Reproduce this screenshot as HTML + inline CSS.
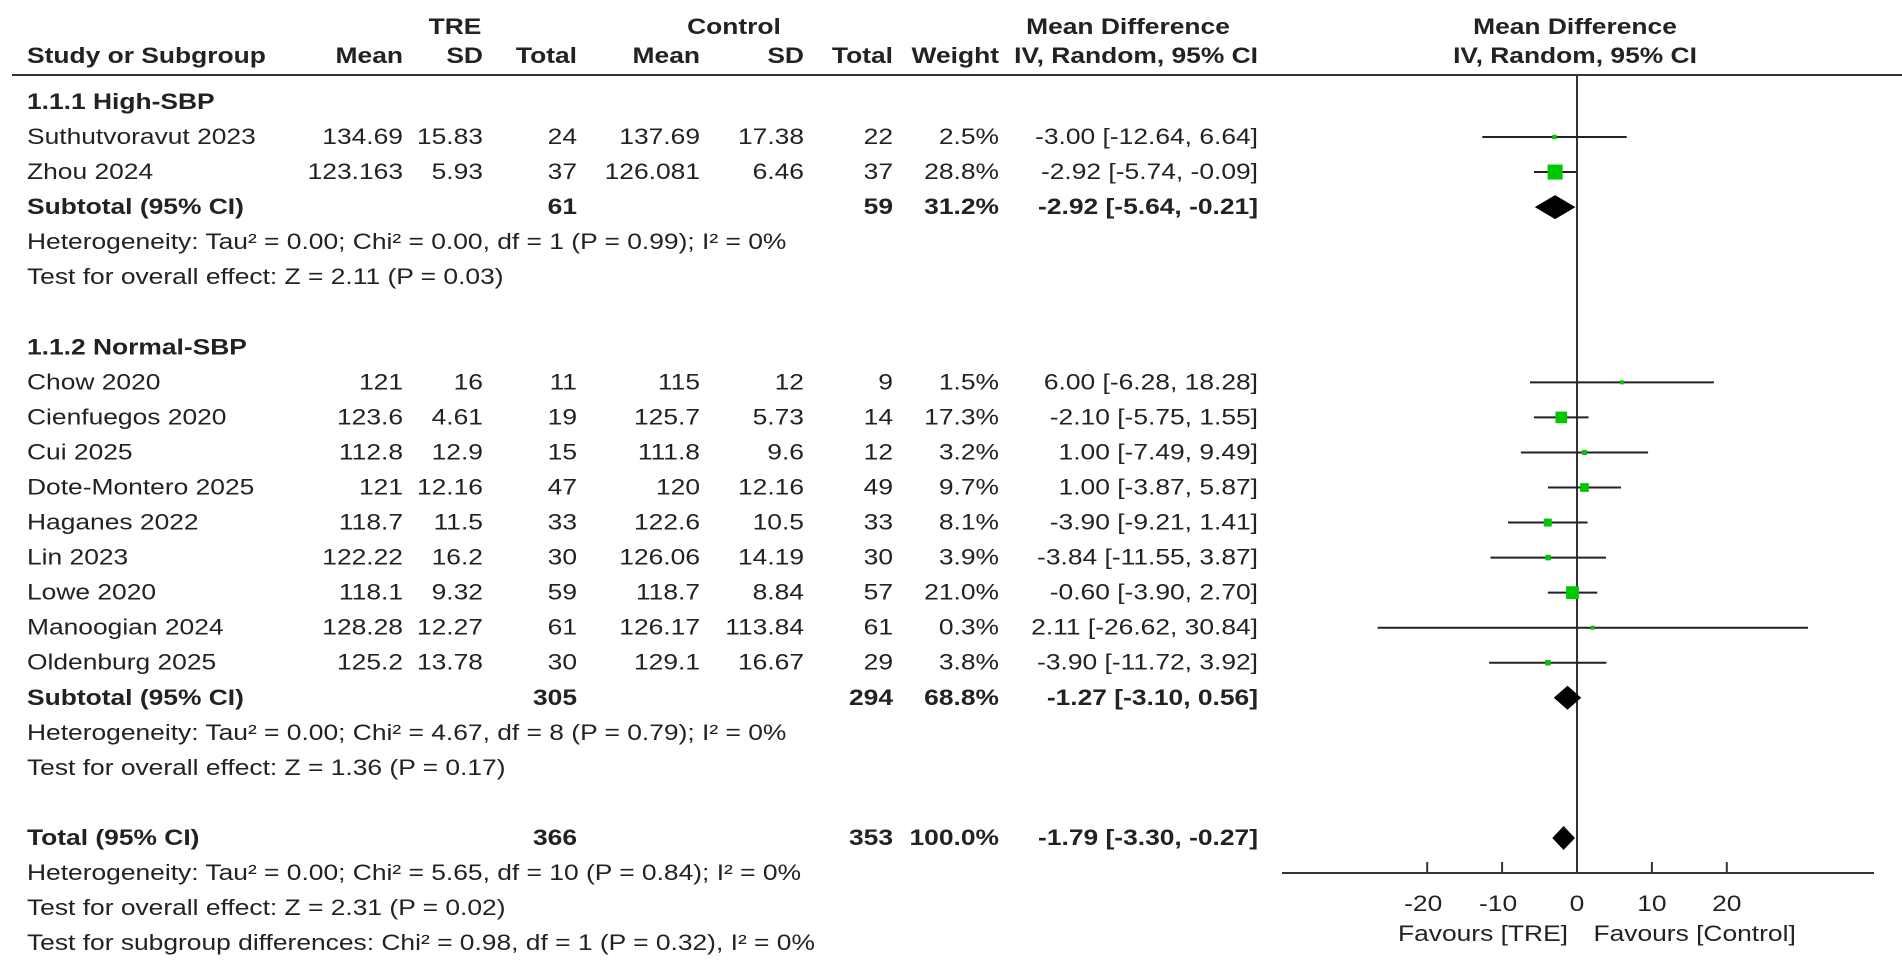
<!DOCTYPE html>
<html><head><meta charset="utf-8">
<style>
html,body{margin:0;padding:0;background:#fff;width:1902px;height:968px;overflow:hidden}
svg{display:block}
text{font-family:"Liberation Sans",Arial,sans-serif;fill:#222}
</style></head>
<body>
<svg id="chart" width="1902" height="968" viewBox="0 0 1902 968" xmlns="http://www.w3.org/2000/svg"></svg>
<script>
const studies=["Suthutvoravut 2023","Zhou 2024","Chow 2020","Cienfuegos 2020","Cui 2025","Dote-Montero 2025","Haganes 2022","Lin 2023","Lowe 2020","Manoogian 2024","Oldenburg 2025"];
const studyRows=[0,1,7,8,9,10,11,12,13,14,15];
const treMean=["134.69","123.163","121","123.6","112.8","121","118.7","122.22","118.1","128.28","125.2"];
const treSD=["15.83","5.93","16","4.61","12.9","12.16","11.5","16.2","9.32","12.27","13.78"];
const treN=["24","37","11","19","15","47","33","30","59","61","30"];
const ctlMean=["137.69","126.081","115","125.7","111.8","120","122.6","126.06","118.7","126.17","129.1"];
const ctlSD=["17.38","6.46","12","5.73","9.6","12.16","10.5","14.19","8.84","113.84","16.67"];
const ctlN=["22","37","9","14","12","49","33","30","57","61","29"];
const weights=[2.5,28.8,1.5,17.3,3.2,9.7,8.1,3.9,21.0,0.3,3.8];
const md=[-3.00,-2.92,6.00,-2.10,1.00,1.00,-3.90,-3.84,-0.60,2.11,-3.90];
const lo=[-12.64,-5.74,-6.28,-5.75,-7.49,-3.87,-9.21,-11.55,-3.90,-26.62,-11.72];
const hi=[6.64,-0.09,18.28,1.55,9.49,5.87,1.41,3.87,2.70,30.84,3.92];
const pooledNames=["Subtotal (95% CI)","Subtotal (95% CI)","Total (95% CI)"];
const pooledRows=[2,16,20];
const pooledTre=["61","305","366"];
const pooledCtl=["59","294","353"];
const pooledW=["31.2%","68.8%","100.0%"];
const pooledMd=[-2.92,-1.27,-1.79];
const pooledLo=[-5.64,-3.10,-3.30];
const pooledHi=[-0.21,0.56,-0.27];
const ticks=[-20,-10,0,10,20];

const svg=document.getElementById('chart');
const NS='http://www.w3.org/2000/svg';
const rowY=i=>137+35.05*i;
const X0=1577, PX=7.49;
const xs=v=>X0+v*PX;
const SX=1.2;
function el(tag,attrs,parent){const e=document.createElementNS(NS,tag);for(const k in attrs)e.setAttribute(k,attrs[k]);(parent||svg).appendChild(e);return e;}
const tbl=el('g',{transform:'scale('+SX+',1)'});


function txt(s,x,y,opt){opt=opt||{};const t=el('text',{x:x/SX,y:y,'font-size':opt.fs||22,'text-anchor':opt.anchor||'start','font-weight':opt.bold?'bold':'normal'},opt.parent||tbl);if(opt.fill)t.setAttribute('fill',opt.fill);t.textContent=s;return t;}
const f2=v=>v.toFixed(2);
const ci=(m,l,h)=>f2(m)+" ["+f2(l)+", "+f2(h)+"]";
const C={mean1:403,sd1:483,n1:577,mean2:700,sd2:804,n2:893,w:999,ci:1258};
txt("TRE",455,34,{bold:1,anchor:'middle',name:'tre-header'});
txt("Control",734,34,{bold:1,anchor:'middle',name:'control-header'});
txt("Mean Difference",1128,34,{bold:1,anchor:'middle',name:'md-header'});
txt("Study or Subgroup",27,63,{bold:1,name:'study-col-header'});
txt("Mean",C.mean1,63,{bold:1,anchor:'end',name:'tre-mean-header'});
txt("SD",C.sd1,63,{bold:1,anchor:'end',name:'tre-sd-header'});
txt("Total",C.n1,63,{bold:1,anchor:'end',name:'tre-total-header'});
txt("Mean",C.mean2,63,{bold:1,anchor:'end',name:'control-mean-header'});
txt("SD",C.sd2,63,{bold:1,anchor:'end',name:'control-sd-header'});
txt("Total",C.n2,63,{bold:1,anchor:'end',name:'control-total-header'});
txt("Weight",C.w,63,{bold:1,anchor:'end',name:'weight-header'});
txt("IV, Random, 95% CI",C.ci,63,{bold:1,anchor:'end',name:'ci-header'});
txt("Mean Difference",1575,34,{bold:1,anchor:'middle',name:'plot-header'});
txt("IV, Random, 95% CI",1575,63,{bold:1,anchor:'middle',name:'plot-subheader'});
const hl=el('line',{x1:12,y1:75,x2:1902,y2:75,stroke:'#333','stroke-width':2});


const B=7;
txt("1.1.1 High-SBP",27,rowY(-1)+B,{bold:1,name:'subgroup-title'});
txt("1.1.2 Normal-SBP",27,rowY(6)+B,{bold:1,name:'subgroup-title'});
const notes=[[3,"Heterogeneity: Tau\u00b2 = 0.00; Chi\u00b2 = 0.00, df = 1 (P = 0.99); I\u00b2 = 0%"],[4,"Test for overall effect: Z = 2.11 (P = 0.03)"],[17,"Heterogeneity: Tau\u00b2 = 0.00; Chi\u00b2 = 4.67, df = 8 (P = 0.79); I\u00b2 = 0%"],[18,"Test for overall effect: Z = 1.36 (P = 0.17)"],[21,"Heterogeneity: Tau\u00b2 = 0.00; Chi\u00b2 = 5.65, df = 10 (P = 0.84); I\u00b2 = 0%"],[22,"Test for overall effect: Z = 2.31 (P = 0.02)"],[23,"Test for subgroup differences: Chi\u00b2 = 0.98, df = 1 (P = 0.32), I\u00b2 = 0%"]];
notes.forEach(n=>txt(n[1],27,rowY(n[0])+B,{name:'statistics-note'}));
const zl=el('line',{x1:X0,y1:75,x2:X0,y2:873,stroke:'#333','stroke-width':2});


const ax=el('line',{x1:1282,y1:873,x2:1874,y2:873,stroke:'#333','stroke-width':2});


ticks.forEach(t=>{
  const tk=el('line',{x1:xs(t),y1:862,x2:xs(t),y2:873,stroke:'#333','stroke-width':2});
  
  
  txt(String(t),xs(t)-(t<0?4:0),911,{anchor:'middle',name:'x-tick-label'});
});
txt("Favours [TRE]",xs(-1.2),941,{anchor:'end',fill:'#444',name:'favours-tre-label'});
txt("Favours [Control]",xs(2.2),941,{anchor:'start',fill:'#444',name:'favours-control-label'});
studies.forEach((s,i)=>{
  const y=rowY(studyRows[i]);
  txt(s,27,y+B,{name:'study-name'});
  txt(treMean[i],C.mean1,y+B,{anchor:'end',name:'tre-mean'});
  txt(treSD[i],C.sd1,y+B,{anchor:'end',name:'tre-sd'});
  txt(treN[i],C.n1,y+B,{anchor:'end',name:'tre-total'});
  txt(ctlMean[i],C.mean2,y+B,{anchor:'end',name:'control-mean'});
  txt(ctlSD[i],C.sd2,y+B,{anchor:'end',name:'control-sd'});
  txt(ctlN[i],C.n2,y+B,{anchor:'end',name:'control-total'});
  txt(weights[i].toFixed(1)+"%",C.w,y+B,{anchor:'end',name:'weight'});
  txt(ci(md[i],lo[i],hi[i]),C.ci,y+B,{anchor:'end',name:'ci-value'});
  const l=el('line',{x1:xs(lo[i]),y1:y,x2:xs(hi[i]),y2:y,stroke:'#222','stroke-width':2});
  
  
  const sz=Math.max(4,15*Math.sqrt(weights[i]/28.8));
  const r=el('rect',{x:xs(md[i])-sz/2,y:y-sz/2,width:sz,height:sz,fill:'#00c800'});
  
  
});
pooledNames.forEach((s,i)=>{
  const y=rowY(pooledRows[i]);
  txt(s,27,y+B,{bold:1,name:'pooled-label'});
  txt(pooledTre[i],C.n1,y+B,{bold:1,anchor:'end',name:'pooled-tre-total'});
  txt(pooledCtl[i],C.n2,y+B,{bold:1,anchor:'end',name:'pooled-control-total'});
  txt(pooledW[i],C.w,y+B,{bold:1,anchor:'end',name:'pooled-weight'});
  txt(ci(pooledMd[i],pooledLo[i],pooledHi[i]),C.ci,y+B,{bold:1,anchor:'end',name:'pooled-ci'});
  const h=12;
  const d=el('polygon',{points:[xs(pooledLo[i])+','+y,xs(pooledMd[i])+','+(y-h),xs(pooledHi[i])+','+y,xs(pooledMd[i])+','+(y+h)].join(' '),fill:'#000'});
  
  
});
</script>
</body></html>
